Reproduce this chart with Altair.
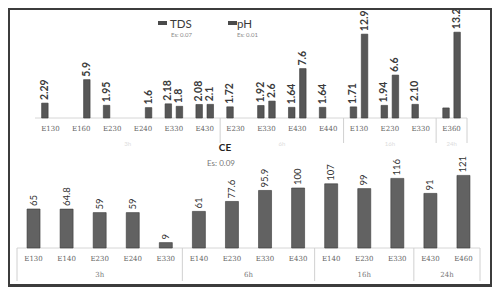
import altair as alt
import pandas as pd

W, H = 484, 279

# ---------------- top chart (TDS / pH) ----------------
top_groups = ["3h", "6h", "16h", "24h"]
top_group_sizes = [6, 4, 3, 1]
top_cats = ["E130", "E160", "E230", "E240", "E330", "E430",
            "E230", "E330", "E430", "E440",
            "E130", "E230", "E330",
            "E360"]
tds_vals = [2.29, None, 1.95, None, 2.18, 2.08,
            1.72, 1.92, 1.64, 1.64,
            1.71, 1.94, 2.10,
            1.55]
tds_text = ["2.29", "", "1.95", "", "2.18", "2.08",
            "1.72", "1.92", "1.64", "1.64",
            "1.71", "1.94", "2.10",
            ""]
ph_vals = [None, 5.9, None, 1.6, 1.8, 2.1,
           None, 2.6, 7.6, None,
           12.9, 6.6, None,
           13.2]
ph_text = ["", "5.9", "", "1.6", "1.8", "2.1",
           "", "2.6", "7.6", "",
           "12.9", "6.6", "",
           "13.2"]

# ---------------- bottom chart (CE) ----------------
ce_groups = ["3h", "6h", "16h", "24h"]
ce_group_sizes = [5, 4, 3, 2]
ce_cats = ["E130", "E140", "E230", "E240", "E330",
           "E140", "E230", "E330", "E430",
           "E140", "E230", "E330",
           "E430", "E460"]
ce_vals = [65, 64.8, 59, 59, 9,
           61, 77.6, 95.9, 100,
           107, 99, 116,
           91, 121]
ce_text = ["65", "64.8", "59", "59", "9",
           "61", "77.6", "95.9", "100",
           "107", "99", "116",
           "91", "121"]

# ---------------- tables ----------------
rows = []
for i, c in enumerate(top_cats):
    for s, vals, txts, off in (("TDS", tds_vals, tds_text, -0.18),
                               ("pH", ph_vals, ph_text, 0.18)):
        if vals[i] is not None:
            rows.append(dict(cat=c, series=s, value=vals[i], text=txts[i], pos=i + 0.5 + off))
top_df = pd.DataFrame(rows)
top_cat_df = pd.DataFrame({"cat": top_cats, "pos": [i + 0.5 for i in range(len(top_cats))]})

ce_df = pd.DataFrame({"cat": ce_cats, "value": ce_vals, "text": ce_text,
                      "pos": [i + 0.5 for i in range(len(ce_cats))]})


def group_table(groups, sizes):
    mids, ends, start = [], [], 0
    for n in sizes:
        mids.append(start + n / 2)
        start += n
        ends.append(start)
    return pd.DataFrame({"group": groups, "mid": mids, "end": ends})


top_grp = group_table(top_groups, top_group_sizes)
ce_grp = group_table(ce_groups, ce_group_sizes)
ce_bounds = pd.DataFrame({"end": [0] + list(ce_grp["end"])})

n_top = len(top_cats)
n_ce = len(ce_cats)

top_x = alt.Scale(domain=[0, n_top], range=[22, 464])
top_y = alt.Scale(domain=[0, 15], range=[110, 110 - 6.5 * 15])
ce_x = alt.Scale(domain=[0, n_ce], range=[4, 477])
ce_y = alt.Scale(domain=[0, 133], range=[240, 240 - 0.6 * 133])

FONT = "Lato"

# top layers
tx = lambda f: alt.X(f, scale=top_x, axis=None)
ty = lambda f: alt.Y(f, scale=top_y, axis=None)

top_base = alt.Chart(pd.DataFrame({"k": [0]})).mark_rule(color="#d6d6d6", strokeWidth=1).encode(
    x=alt.X(datum=0, scale=top_x, axis=None), x2=alt.X2(datum=n_top),
    y=alt.Y(datum=0, scale=top_y, axis=None))
top_sep = alt.Chart(top_grp).mark_rule(color="#d0d0d0", strokeWidth=1).encode(
    x=tx("end:Q"), y=alt.Y(datum=0, scale=top_y, axis=None), y2=alt.value(135))
top_bars = alt.Chart(top_df).mark_bar(size=6.5, orient="vertical", color="#575757",
                                      stroke="#3a3a3a", strokeWidth=0.6).encode(
    x=tx("pos:Q"), y=ty("value:Q"))
top_vals = alt.Chart(top_df).mark_text(angle=270, align="left", baseline="middle", dx=3,
                                       fontSize=10.5, fontWeight="bold", font=FONT,
                                       color="#3a3a3a").encode(
    x=tx("pos:Q"), y=ty("value:Q"), text="text:N")
top_catlab = alt.Chart(top_cat_df).mark_text(dy=11, fontSize=7, font="DejaVu Serif",
                                             color="#666").encode(
    x=tx("pos:Q"), y=alt.Y(datum=0, scale=top_y, axis=None), text="cat:N")
top_grplab = alt.Chart(top_grp).mark_text(dy=26, fontSize=6, font=FONT, color="#dcdcdc").encode(
    x=tx("mid:Q"), y=alt.Y(datum=0, scale=top_y, axis=None), text="group:N")

top_layer = alt.layer(top_base, top_sep, top_bars, top_vals, top_catlab, top_grplab)

# bottom layers
cx = lambda f: alt.X(f, scale=ce_x, axis=None)
cy = lambda f: alt.Y(f, scale=ce_y, axis=None)

ce_base = alt.Chart(pd.DataFrame({"k": [0]})).mark_rule(color="#d6d6d6", strokeWidth=1).encode(
    x=alt.X(datum=0, scale=ce_x, axis=None), x2=alt.X2(datum=n_ce),
    y=alt.Y(datum=0, scale=ce_y, axis=None))
ce_sep = alt.Chart(ce_bounds).mark_rule(color="#d0d0d0", strokeWidth=1).encode(
    x=cx("end:Q"), y=alt.Y(datum=0, scale=ce_y, axis=None), y2=alt.value(273))
ce_bars = alt.Chart(ce_df).mark_bar(size=13, orient="vertical", color="#626262",
                                    stroke="#3a3a3a", strokeWidth=0.6).encode(
    x=cx("pos:Q"), y=cy("value:Q"))
ce_valtxt = alt.Chart(ce_df).mark_text(angle=270, align="left", baseline="middle", dx=3,
                                       fontSize=9.5, font=FONT, color="#333").encode(
    x=cx("pos:Q"), y=cy("value:Q"), text="text:N")
ce_catlab = alt.Chart(ce_df).mark_text(dy=11, fontSize=7, font="DejaVu Serif",
                                       color="#666").encode(
    x=cx("pos:Q"), y=alt.Y(datum=0, scale=ce_y, axis=None), text="cat:N")
ce_grplab = alt.Chart(ce_grp).mark_text(dy=27, fontSize=7, font="DejaVu Serif",
                                        color="#777").encode(
    x=cx("mid:Q"), y=alt.Y(datum=0, scale=ce_y, axis=None), text="group:N")

ce_layer = alt.layer(ce_base, ce_sep, ce_bars, ce_valtxt, ce_catlab, ce_grplab)

# legend / titles
one = pd.DataFrame({"k": [0]})


def txt(s, x, y, size, color="#333", weight="normal", align="left"):
    return alt.Chart(one).mark_text(align=align, baseline="middle", fontSize=size,
                                    fontWeight=weight, font=FONT, color=color).encode(
        x=alt.value(x), y=alt.value(y), text=alt.value(s))


def swatch(x, y):
    return alt.Chart(one).mark_rect(color="#4a4a4a").encode(
        x=alt.value(x), x2=alt.value(x + 9), y=alt.value(y), y2=alt.value(y + 4))


legend = alt.layer(
    swatch(150, 13), txt("TDS", 162, 16.5, 11.5, "#3a3a3a"), txt("Es: 0.07", 163, 26.5, 6, "#8a8a8a"),
    swatch(220, 13), txt("pH", 229, 16.5, 11.5, "#3a3a3a"), txt("Es: 0.01", 229, 26.5, 6, "#8a8a8a"),
    txt("CE", 217, 140, 10, "#222", "bold", "center"),
    txt("Es: 0.09", 213, 156, 8, "#777", "normal", "center"),
)

shadow = alt.Chart(one).mark_rule(color="#3c3c3c", strokeWidth=6).encode(
    x=alt.value(0), x2=alt.value(W), y=alt.value(H))

chart = alt.layer(top_layer, ce_layer, legend, shadow).resolve_scale(
    x="independent", y="independent"
).properties(
    width=W, height=H, padding=0, autosize=alt.AutoSizeParams(type="none"),
    background="white"
).configure_view(stroke="#3c3c3c", strokeWidth=4)

chart.save("out.html", embed_options={"renderer": "svg", "actions": False})
